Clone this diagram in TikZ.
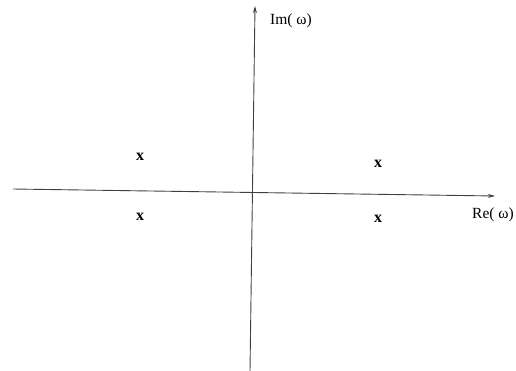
\documentclass[tikz,border=0pt]{standalone}
\usepackage{fontspec}
\setmainfont{Liberation Serif}
\usetikzlibrary{positioning,calc,arrows.meta}

\begin{document}
\begin{tikzpicture}[x=1pt,y=-1pt,every node/.style={font=\fontsize{15.5}{18}\selectfont}]
  \tikzstyle{pole}=[font=\fontsize{16}{18}\selectfont\bfseries, inner sep=0pt]
  \tikzstyle{axis}=[draw=black!75, line width=0.9pt, -{Stealth[length=7pt,width=4pt]}]
  \useasboundingbox (0,0) rectangle (516,371);
  % axes
  \coordinate (re0) at (13,189);
  \coordinate (re1) at (495,196);
  \coordinate (im0) at (250,371);
  \coordinate (im1) at (255,6);
  \draw[axis] (re0) -- (re1);
  \draw[axis] (im0) -- (im1);
  \node[anchor=west, inner sep=0pt] (imlab) at (270,21) {Im( ω)};
  \node[anchor=west, inner sep=0pt] (relab) at (472,215) {Re( ω)};
  % poles
  \node[pole] (p1) at (140,157) {x};
  \node[pole] (p2) at (140,217) {x};
  \node[pole] (p3) at (378,164) {x};
  \node[pole] (p4) at (378,219) {x};
\end{tikzpicture}
\end{document}
